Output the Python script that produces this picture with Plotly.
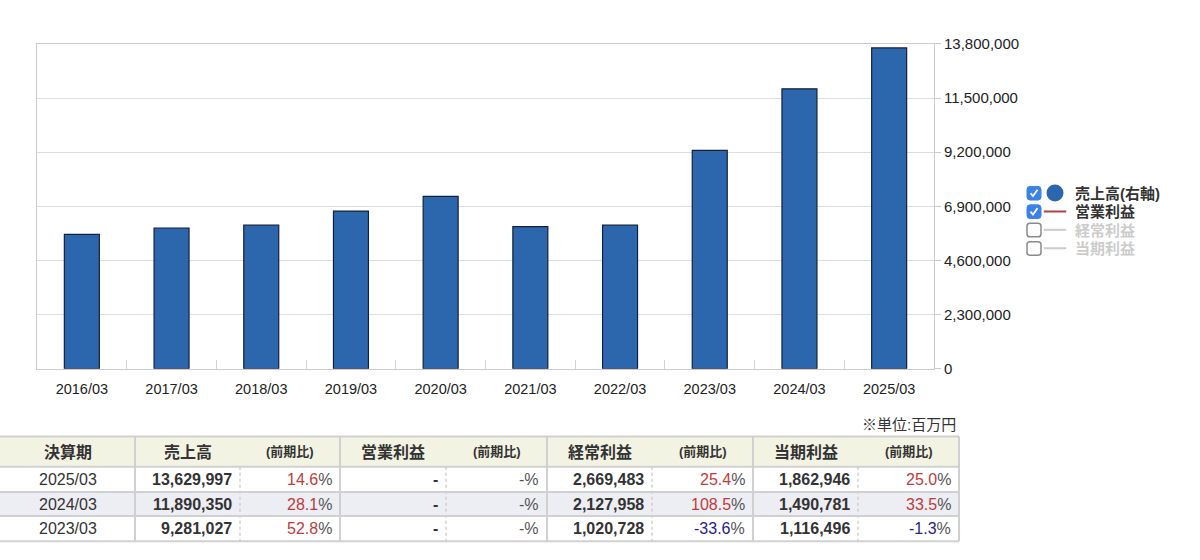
import plotly.graph_objects as go

# chart data
periods = ['2016/03', '2017/03', '2018/03', '2019/03', '2020/03',
           '2021/03', '2022/03', '2023/03', '2024/03', '2025/03']
sales = [5710000, 5980000, 6100000, 6700000, 7320000,
         6040000, 6100000, 9281027, 11890350, 13629997]
op_income = [None, None, None, None, None, None, None, None, None, None]
ord_income = [None, None, None, None, None, None, None, 1020728, 2127958, 2669483]
net_income = [None, None, None, None, None, None, None, 1116496, 1490781, 1862946]
y_ticks = [0, 2300000, 4600000, 6900000, 9200000, 11500000, 13800000]

# table data
tbl_periods = ['2025/03', '2024/03', '2023/03']
tbl_sales = [13629997, 11890350, 9281027]
tbl_sales_chg = [14.6, 28.1, 52.8]
tbl_op = [None, None, None]
tbl_op_chg = [None, None, None]
tbl_ord = [2669483, 2127958, 1020728]
tbl_ord_chg = [25.4, 108.5, -33.6]
tbl_net = [1862946, 1490781, 1116496]
tbl_net_chg = [25.0, 33.5, -1.3]
tbl_headers = ['決算期', '売上高', '(前期比)', '営業利益', '(前期比)',
               '経常利益', '(前期比)', '当期利益', '(前期比)']

W, H = 1200, 560
FONT = 'Liberation Sans, Arial, Noto Sans CJK JP, sans-serif'


def px(x):
    return x / W


def py(y):
    return 1 - y / H


fig = go.Figure()

# chart traces (profit lines sit on a hidden left axis)
fig.add_trace(go.Bar(x=periods, y=sales, name='売上高(右軸)', showlegend=False,
                     marker=dict(color='#2c66ad', line=dict(color='#14203a', width=1.2)), yaxis='y'))
fig.add_trace(go.Scatter(x=periods, y=op_income, mode='lines', name='営業利益', showlegend=False,
                         line=dict(color='#b5413f', width=2), yaxis='y2'))
fig.add_trace(go.Scatter(x=periods, y=ord_income, mode='lines', name='経常利益', showlegend=False,
                         line=dict(color='#999999', width=2), yaxis='y2', visible='legendonly'))
fig.add_trace(go.Scatter(x=periods, y=net_income, mode='lines', name='当期利益', showlegend=False,
                         line=dict(color='#999999', width=2), yaxis='y2', visible='legendonly'))

# legend entries
legend_items = [('売上高(右軸)', 'circle', '#2c66ad', True),
                ('営業利益', 'line-ew', '#b5413f', True),
                ('経常利益', 'line-ew', '#999999', False),
                ('当期利益', 'line-ew', '#999999', False)]
for i, (name, sym, col, on) in enumerate(legend_items):
    fig.add_trace(go.Scatter(x=[None], y=[None], mode='markers', name=f'<b>{name}</b>',
                             visible=True if on else 'legendonly',
                             marker=dict(symbol=sym, size=15 if sym == 'circle' else 21, color=col,
                                         line=dict(color=col, width=2)),
                             legend='legend' if i == 0 else f'legend{i + 1}'))

shapes = []


def rrect(x0, y0, x1, y1, r):
    return (f'M{px(x0 + r)},{py(y0)} L{px(x1 - r)},{py(y0)} Q{px(x1)},{py(y0)} {px(x1)},{py(y0 + r)} '
            f'L{px(x1)},{py(y1 - r)} Q{px(x1)},{py(y1)} {px(x1 - r)},{py(y1)} '
            f'L{px(x0 + r)},{py(y1)} Q{px(x0)},{py(y1)} {px(x0)},{py(y1 - r)} '
            f'L{px(x0)},{py(y0 + r)} Q{px(x0)},{py(y0)} {px(x0 + r)},{py(y0)} Z')


# legend rows and checkboxes
legend_rows = [190, 209, 228, 247]
for cy, item in zip(legend_rows, legend_items):
    x0, y0, x1, y1 = 1027, cy - 7, 1041, cy + 7
    if item[3]:
        shapes.append(dict(type='path', path=rrect(x0, y0, x1, y1, 3), xref='paper', yref='paper',
                           fillcolor='#3a82e6', line=dict(color='#3a82e6', width=1)))
        shapes.append(dict(type='path', xref='paper', yref='paper',
                           path=f'M{px(x0 + 3.5)},{py(cy)} L{px(x0 + 6)},{py(cy + 3)} L{px(x0 + 10.5)},{py(cy - 3.5)}',
                           line=dict(color='white', width=1.8)))
    else:
        shapes.append(dict(type='path', path=rrect(x0, y0, x1, y1, 3), xref='paper', yref='paper',
                           fillcolor='white', line=dict(color='#8a8a8a', width=1.5)))

# table
col_edges = [0, 135, 240, 340, 446, 547, 652, 753, 858, 959]
row_edges = [441, 472, 498, 523, 549]
border = '#d0d0d0'
shapes.append(dict(type='rect', xref='paper', yref='paper', x0=px(0), x1=px(959),
                   y0=py(row_edges[0]), y1=py(row_edges[1]), fillcolor='#f3f3e4', line=dict(width=0),
                   layer='below'))
shapes.append(dict(type='rect', xref='paper', yref='paper', x0=px(0), x1=px(959),
                   y0=py(row_edges[2]), y1=py(row_edges[3]), fillcolor='#ededf4', line=dict(width=0),
                   layer='below'))
for ry in row_edges:
    shapes.append(dict(type='line', xref='paper', yref='paper', x0=px(0), x1=px(959),
                       y0=py(ry), y1=py(ry), line=dict(color=border, width=2)))
for i, cx in enumerate(col_edges[1:], start=1):
    if i in (2, 4, 6, 8):
        shapes.append(dict(type='line', xref='paper', yref='paper', x0=px(cx), x1=px(cx),
                           y0=py(row_edges[1]), y1=py(row_edges[-1]),
                           line=dict(color='#cfcfcf', width=1.5, dash='dot')))
    else:
        shapes.append(dict(type='line', xref='paper', yref='paper', x0=px(cx), x1=px(cx),
                           y0=py(row_edges[0]), y1=py(row_edges[-1]),
                           line=dict(color=border, width=2)))

annotations = []


def cell(text, col, row, align='right', size=16, color='#333333', bold=False):
    y = (row_edges[row] + row_edges[row + 1]) / 2
    if align == 'center':
        x, anchor = (col_edges[col] + col_edges[col + 1]) / 2, 'center'
    else:
        x, anchor = col_edges[col + 1] - 6, 'right'
    if bold:
        text = f'<b>{text}</b>'
    annotations.append(dict(text=text, x=px(x), y=py(y), xref='paper', yref='paper',
                            xanchor=anchor, yanchor='middle', showarrow=False,
                            font=dict(size=size, color=color, family=FONT)))


def num(v):
    return '-' if v is None else f'{v:,}'


def pct(v):
    if v is None:
        return "<span style='color:#555'>-%</span>"
    c = '#c23b3b' if v >= 0 else '#23238a'
    return f"<span style='color:{c}'>{v:.1f}</span><span style='color:#555'>%</span>"


for j, h in enumerate(tbl_headers):
    cell(h, j, 0, align='center', size=13 if h == '(前期比)' else 16, bold=True)

for r in range(3):
    cell(tbl_periods[r], 0, r + 1, align='center')
    cell(num(tbl_sales[r]), 1, r + 1, bold=True)
    cell(pct(tbl_sales_chg[r]), 2, r + 1)
    cell(num(tbl_op[r]), 3, r + 1, bold=True)
    cell(pct(tbl_op_chg[r]), 4, r + 1)
    cell(num(tbl_ord[r]), 5, r + 1, bold=True)
    cell(pct(tbl_ord_chg[r]), 6, r + 1)
    cell(num(tbl_net[r]), 7, r + 1, bold=True)
    cell(pct(tbl_net_chg[r]), 8, r + 1)

annotations.append(dict(text='※単位:百万円', x=px(958), y=py(428), xref='paper', yref='paper',
                        xanchor='right', yanchor='middle', showarrow=False,
                        font=dict(size=15, color='#333333', family=FONT)))


def legend_box(row, color):
    return dict(x=px(1035), y=py(legend_rows[row]), xanchor='left', yanchor='middle',
                font=dict(size=15, color=color, family=FONT), bgcolor='rgba(0,0,0,0)',
                borderwidth=0, itemclick=False, itemdoubleclick=False)


fig.update_layout(
    width=W, height=H,
    margin=dict(l=0, r=0, t=0, b=0),
    paper_bgcolor='white', plot_bgcolor='white',
    font=dict(family=FONT, color='#333333'),
    bargap=0.61,
    xaxis=dict(domain=[px(37), px(934)], showline=True, mirror=True, linecolor='#cccccc',
               ticks='inside', tickson='boundaries', ticklen=9, tickcolor='#d5d5d5',
               ticklabelstandoff=7,
               tickfont=dict(size=14.5, color='#222222'), showgrid=False),
    yaxis=dict(domain=[py(371), py(36)], side='right', range=[0, 13800000],
               tickvals=y_ticks, tickformat=',d', showline=True, mirror=True,
               linecolor='#cccccc', gridcolor='#dddddd', ticks='outside', ticklen=6,
               tickcolor='#cccccc', tickfont=dict(size=15, color='#222222'), zeroline=False),
    yaxis2=dict(overlaying='y', visible=False, rangemode='tozero'),
    legend=legend_box(0, '#333333'),
    legend2=legend_box(1, '#333333'),
    legend3=legend_box(2, '#999999'),
    legend4=legend_box(3, '#999999'),
    shapes=shapes,
    annotations=annotations,
)

fig.write_html('out.html', config={'displayModeBar': False},
               post_script="document.body.style.margin='0';")
